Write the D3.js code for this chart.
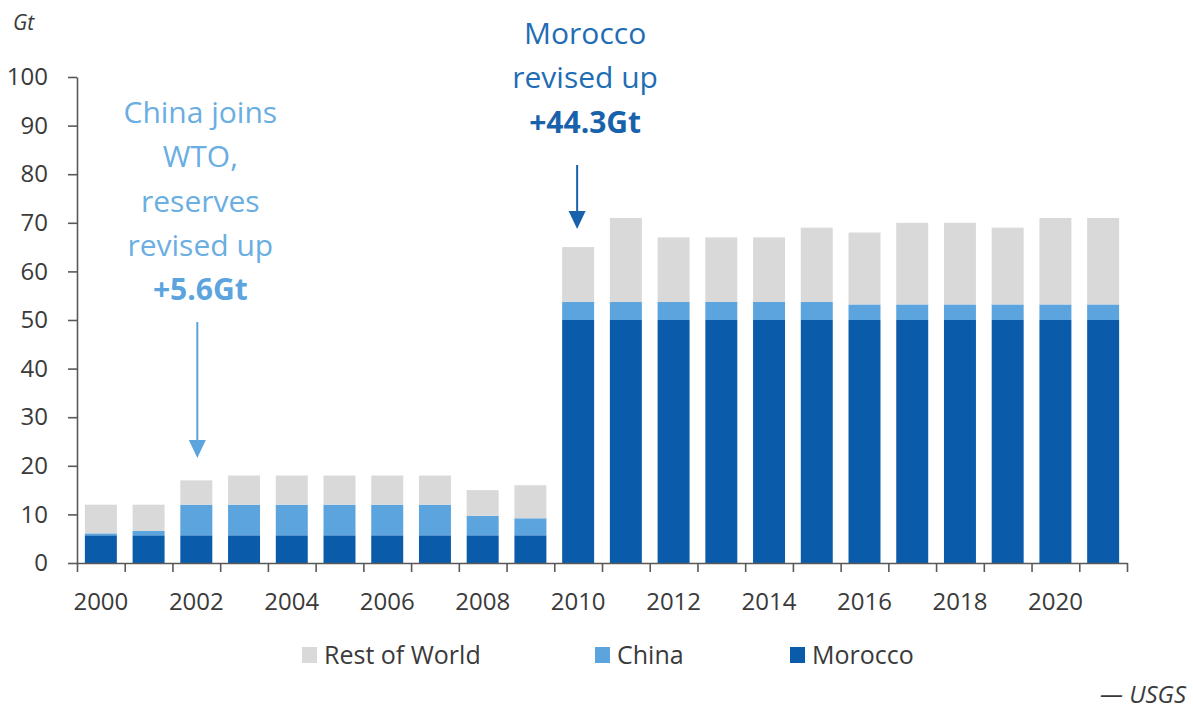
<!DOCTYPE html>
<html>
<head>
<meta charset="utf-8">
<script src="https://cdn.jsdelivr.net/npm/d3@7/dist/d3.min.js"></script>
<style>
  html, body { margin: 0; padding: 0; background: #fff; }
  svg { display: block; font-family: "Open Sans", "Noto Sans", sans-serif; }
</style>
</head>
<body>
<svg id="chart" width="1193" height="710"></svg>
<script>
// Phosphate rock reserves by country, Gt
const years = d3.range(2000, 2022);
const morocco = [5.7, 5.7, 5.7, 5.7, 5.7, 5.7, 5.7, 5.7, 5.7, 5.7,
                 50, 50, 50, 50, 50, 50, 50, 50, 50, 50, 50, 50];
const china   = [0.4, 0.9, 6.3, 6.3, 6.3, 6.3, 6.3, 6.3, 4.0, 3.5,
                 3.7, 3.7, 3.7, 3.7, 3.7, 3.7, 3.2, 3.2, 3.2, 3.2, 3.2, 3.2];
const restOfWorld = [5.9, 5.4, 5.0, 6.0, 6.0, 6.0, 6.0, 6.0, 5.3, 6.8,
                     11.3, 17.3, 13.3, 13.3, 13.3, 15.3, 14.8, 16.8, 16.8, 15.8, 17.8, 17.8];
const yTicks = [0, 10, 20, 30, 40, 50, 60, 70, 80, 90, 100];
const xLabelYears = [2000, 2002, 2004, 2006, 2008, 2010, 2012, 2014, 2016, 2018, 2020];

const seriesKeys = ["morocco", "china", "rest"];
const seriesNames = { rest: "Rest of World", china: "China", morocco: "Morocco" };
const colors = { morocco: "#0a5caa", china: "#5ba4de", rest: "#d9d9d9" };

const rows = years.map((yr, i) => ({
  year: yr, morocco: morocco[i], china: china[i], rest: restOfWorld[i]
}));

const svg = d3.select("#chart");
const plotLeft = 77, plotRight = 1127, plotTop = 77, plotBottom = 563;

const x = d3.scaleBand().domain(years).range([plotLeft, plotRight])
  .paddingInner(0.33).paddingOuter(0.165);
const xEdge = d3.scaleLinear().domain([0, years.length]).range([plotLeft, plotRight]);
const y = d3.scaleLinear().domain([0, 100]).range([plotBottom, plotTop]);

// Stacked bars
const stack = d3.stack().keys(seriesKeys)(rows);
svg.append("g").selectAll("g").data(stack).join("g")
  .attr("fill", d => colors[d.key])
  .selectAll("rect").data(d => d).join("rect")
  .attr("x", d => x(d.data.year))
  .attr("width", x.bandwidth())
  .attr("y", d => y(d[1]))
  .attr("height", d => y(d[0]) - y(d[1]));

const axisColor = "#595959";
const textColor = "#3a3a3a";

// Y axis
const yAxis = svg.append("g").attr("transform", `translate(${plotLeft},0)`)
  .call(d3.axisLeft(y).tickValues(yTicks).tickSize(9).tickSizeOuter(0).tickPadding(20));
yAxis.select(".domain").attr("stroke", axisColor).attr("stroke-width", 1.6);
yAxis.selectAll(".tick line").attr("stroke", axisColor).attr("stroke-width", 1.6);
yAxis.selectAll(".tick text").attr("fill", textColor).attr("font-size", 24)
  .attr("font-family", "Open Sans, sans-serif");

// X axis: tick marks between categories
const xTickAxis = svg.append("g").attr("transform", `translate(0,${plotBottom})`)
  .call(d3.axisBottom(xEdge).tickValues(d3.range(years.length + 1)).tickSize(9)
    .tickSizeOuter(0).tickFormat(""));
xTickAxis.select(".domain").attr("stroke", axisColor).attr("stroke-width", 1.6);
xTickAxis.selectAll(".tick line").attr("stroke", axisColor).attr("stroke-width", 1.6);

// X axis labels under alternate years
const xLabelAxis = svg.append("g").attr("transform", `translate(0,${plotBottom})`)
  .call(d3.axisBottom(x).tickValues(xLabelYears).tickSize(0).tickPadding(30));
xLabelAxis.select(".domain").remove();
xLabelAxis.selectAll(".tick text").attr("fill", textColor).attr("font-size", 24)
  .attr("font-family", "Open Sans, sans-serif");

// Unit label
svg.append("text").attr("x", 13).attr("y", 30).attr("font-size", 21)
  .attr("font-style", "italic").attr("fill", textColor).text("Gt");

// Annotations
function arrow(cx, y0, y1, color) {
  svg.append("line").attr("x1", cx).attr("x2", cx).attr("y1", y0).attr("y2", y1 - 16)
    .attr("stroke", color).attr("stroke-width", 2);
  svg.append("path")
    .attr("d", `M${cx - 8.5},${y1 - 18}L${cx + 8.5},${y1 - 18}L${cx},${y1}Z`)
    .attr("fill", color);
}

const chinaX = x(2002) + x.bandwidth() / 2;
const chinaColor = "#6aaee2";
const chinaLines = ["China joins", "WTO,", "reserves", "revised up"];
const chinaText = svg.append("text").attr("text-anchor", "middle").attr("fill", chinaColor)
  .attr("font-size", 30);
chinaLines.forEach((t, i) => {
  chinaText.append("tspan").attr("x", chinaX + 4).attr("y", 123 + i * 44.3).text(t);
});
chinaText.append("tspan").attr("x", chinaX + 4).attr("y", 123 + 4 * 44.3)
  .attr("font-weight", "bold").attr("fill", "#5ba4de").text("+5.6Gt");
arrow(chinaX + 1, 322, 458, "#5ba4de");

const moroccoX = x(2010) + x.bandwidth() / 2;
const moroccoColor = "#1f6db4";
const moroccoText = svg.append("text").attr("text-anchor", "middle").attr("fill", moroccoColor)
  .attr("font-size", 30);
["Morocco", "revised up"].forEach((t, i) => {
  moroccoText.append("tspan").attr("x", moroccoX + 7).attr("y", 44 + i * 44.3).text(t);
});
moroccoText.append("tspan").attr("x", moroccoX + 7).attr("y", 44 + 2 * 44.3)
  .attr("font-weight", "bold").attr("fill", "#1862ac").text("+44.3Gt");
arrow(moroccoX - 1, 165, 229, "#1862ac");

// Legend
const legendItems = [
  { key: "rest", x: 302 },
  { key: "china", x: 595 },
  { key: "morocco", x: 790 }
];
const legend = svg.append("g").selectAll("g").data(legendItems).join("g")
  .attr("transform", d => `translate(${d.x},647)`);
legend.append("rect").attr("width", 15).attr("height", 16).attr("fill", d => colors[d.key]);
legend.append("text").attr("x", 22).attr("y", 17).attr("font-size", 25)
  .attr("fill", textColor).text(d => seriesNames[d.key]);

// Source
svg.append("text").attr("x", 1186).attr("y", 703).attr("text-anchor", "end")
  .attr("font-size", 24).attr("font-style", "italic").attr("fill", textColor)
  .text("— USGS");
</script>
</body>
</html>
